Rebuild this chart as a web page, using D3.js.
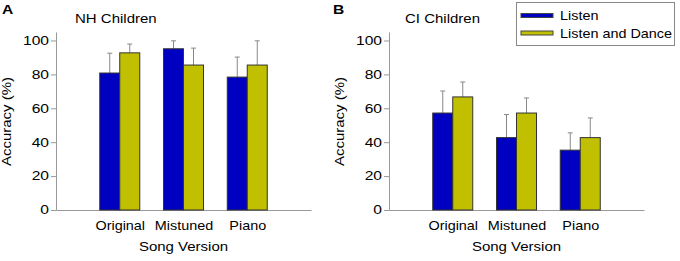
<!DOCTYPE html>
<html>
<head>
<meta charset="utf-8" />
<title>Song Version Accuracy</title>
<script src="https://cdnjs.cloudflare.com/ajax/libs/d3/7.8.5/d3.min.js"></script>
<style>
  body { margin: 0; background: #fff; }
  svg { display: block; font-family: "Liberation Sans", Arial, sans-serif; }
</style>
</head>
<body>
<svg id="chart" width="680" height="261"></svg>
<script>
// data
const categories = ["Original", "Mistuned", "Piano"]
const series = ["Listen", "Listen and Dance"]
const yTicks = [0, 20, 40, 60, 80, 100]

const nhListen = [80.8, 95.1, 78.4]
const nhListenErr = [11.7, 4.7, 11.8]
const nhDance = [92.7, 85.5, 85.5]
const nhDanceErr = [5.2, 10.0, 14.3]

const ciListen = [57.2, 42.7, 35.3]
const ciListenErr = [13.0, 13.6, 10.2]
const ciDance = [66.7, 57.2, 42.7]
const ciDanceErr = [8.8, 8.9, 11.6]

const colors = ["#0000c0", "#c0c000"]
const sx = 1.2   // source text is horizontally stretched
const sxNum = 1.3 // digits even a bit wider

const svg = d3.select('#chart')

// text helper, stretched like the original
function label(g, x, y, str, size, anchor, rot) {
  return g.append('text')
    .attr('transform', 'translate(' + x + ',' + y + ')' + (rot ? ' rotate(' + rot + ')' : '') + ' scale(' + sx + ',1)')
    .attr('text-anchor', anchor || 'start')
    .style('font-size', size + 'px')
    .style('fill', '#000')
    .text(str)
}

function panel(opts) {
  const g = svg.append('g')
  const x0 = opts.left, x1 = opts.left + 255

  const xScale = d3.scaleLinear().domain([0, 4]).range([x0, x1])
  const yScale = d3.scaleLinear().domain([0, 105]).range([210, 32])
  const sub = d3.scaleBand().domain(series).range([-20, 20])

  // y axis
  const yAxis = d3.axisLeft(yScale).tickValues(yTicks).tickSize(5).tickSizeOuter(0).tickPadding(3)
  const ya = g.append('g').attr('transform', 'translate(' + x0 + ',0)').call(yAxis)
  ya.selectAll('path, line').style('stroke', '#999')
  ya.selectAll('text')
    .attr('x', -7 / sxNum)
    .attr('transform', 'scale(' + sxNum + ',1)')
    .style('font-size', '12px')
    .style('fill', '#000')

  // x axis
  const xAxis = d3.axisBottom(xScale).tickValues([1, 2, 3])
    .tickFormat(function(d) { return categories[d - 1] })
    .tickSize(0).tickSizeOuter(0).tickPadding(11)
  const xa = g.append('g').attr('transform', 'translate(0,210)').call(xAxis)
  xa.select('path.domain').style('stroke', '#999')
  xa.selectAll('text')
    .attr('transform', 'scale(' + sx + ',1)')
    .style('font-size', '12px')
    .style('fill', '#000')

  const rows = categories.map(function(c, i) {
    return series.map(function(s, j) {
      return { cat: i + 1, s: s, j: j, v: opts.values[j][i], e: opts.errs[j][i] }
    })
  })

  const grp = g.selectAll('g.grp').data(rows).enter().append('g').attr('class', 'grp')
    .attr('transform', function(d) { return 'translate(' + xScale(d[0].cat) + ',0)' })

  const bar = grp.selectAll('g.bar').data(function(d) { return d }).enter().append('g').attr('class', 'bar')

  // error bars (upper only)
  bar.append('line')
    .attr('x1', function(d) { return sub(d.s) + sub.bandwidth() / 2 })
    .attr('x2', function(d) { return sub(d.s) + sub.bandwidth() / 2 })
    .attr('y1', function(d) { return yScale(d.v) })
    .attr('y2', function(d) { return yScale(d.v + d.e) })
    .style('stroke', '#888')
  bar.append('line')
    .attr('x1', function(d) { return sub(d.s) + sub.bandwidth() / 2 - 2.5 })
    .attr('x2', function(d) { return sub(d.s) + sub.bandwidth() / 2 + 2.5 })
    .attr('y1', function(d) { return yScale(d.v + d.e) })
    .attr('y2', function(d) { return yScale(d.v + d.e) })
    .style('stroke', '#888')

  bar.append('rect')
    .attr('x', function(d) { return sub(d.s) })
    .attr('width', sub.bandwidth())
    .attr('y', function(d) { return yScale(d.v) })
    .attr('height', function(d) { return yScale(0) - yScale(d.v) })
    .style('fill', function(d) { return colors[d.j] })
    .style('stroke', '#333')
    .style('stroke-width', '1px')

  label(g, opts.titleX, 23, opts.title, 12.5)
  label(g, opts.letterX, 13.5, opts.letter, 13).style('font-weight', 'bold')
  label(g, x0 - 45, 121.5, 'Accuracy (%)', 12.5, 'middle', -90)
  label(g, (x0 + x1) / 2, 250.5, 'Song Version', 12.5, 'middle')
}

panel({ left: 56, title: 'NH Children', titleX: 75, letter: 'A', letterX: 2,
        values: [nhListen, nhDance], errs: [nhListenErr, nhDanceErr] })
panel({ left: 389, title: 'CI Children', titleX: 405, letter: 'B', letterX: 333,
        values: [ciListen, ciDance], errs: [ciListenErr, ciDanceErr] })

// legend
const lg = svg.append('g')
lg.append('rect').attr('x', 516.5).attr('y', 2.5).attr('width', 158).attr('height', 43)
  .style('fill', '#fff').style('stroke', '#888')
const item = lg.selectAll('g.item').data(series).enter().append('g').attr('class', 'item')
  .attr('transform', function(d, i) { return 'translate(0,' + (i * 17.5) + ')' })
item.append('rect').attr('x', 521).attr('y', 13.5).attr('width', 32).attr('height', 4)
  .style('fill', function(d, i) { return colors[i] }).style('stroke', '#444')
item.each(function(d) { label(d3.select(this), 560, 20, d, 12) })
</script>
</body>
</html>
